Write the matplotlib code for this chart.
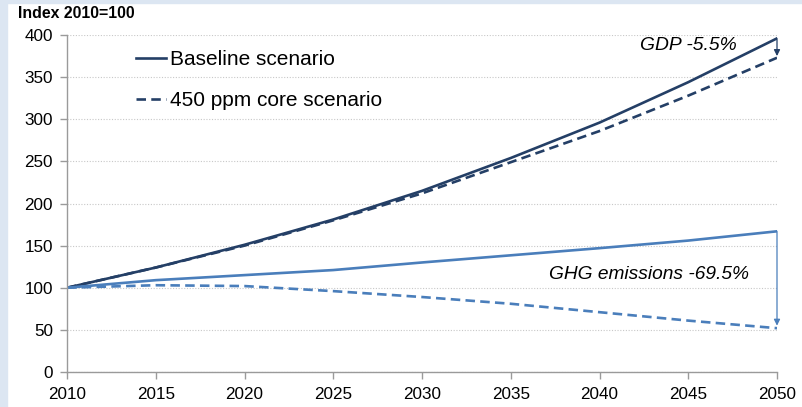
import matplotlib
matplotlib.use("Agg")
import matplotlib.pyplot as plt
from matplotlib.patches import Rectangle
from matplotlib.lines import Line2D

years = [2010, 2015, 2020, 2025, 2030, 2035, 2040, 2045, 2050]
gdp_baseline = [100, 124, 151, 181, 215, 254, 296, 344, 396]
gdp_450 = [100, 124, 150, 180, 212, 249, 286, 328, 373]
ghg_baseline = [100, 109, 115, 121, 130, 138.5, 147, 156, 167]
ghg_450 = [100, 103, 102, 96, 89, 81, 71, 61, 52]

legend_labels = ["Baseline scenario", "450 ppm core scenario"]
ylabel_text = "Index 2010=100"
gdp_note = "GDP -5.5%"
ghg_note = "GHG emissions -69.5%"

dark = "#243f66"
light = "#4a7ebb"

plt.rcParams['font.family'] = ['Liberation Sans', 'DejaVu Sans']

fig = plt.figure(figsize=(8.02, 4.07), dpi=100)
fig.patches.append(Rectangle((0, 0), 7/802, 1, transform=fig.transFigure,
                             color="#dce6f2", zorder=0))
fig.patches.append(Rectangle((0, 1 - 3/407), 1, 3/407, transform=fig.transFigure,
                             color="#dce6f2", zorder=0))

ax = fig.add_axes([67/802, 1 - 372/407, (777-67)/802, (372-35)/407])

ax.plot(years, gdp_baseline, color=dark, lw=1.9, solid_joinstyle='round')
ax.plot(years, gdp_450, color=dark, lw=1.9, dashes=(3.6, 2.0))
ax.plot(years, ghg_baseline, color=light, lw=1.9, solid_joinstyle='round')
ax.plot(years, ghg_450, color=light, lw=1.9, dashes=(3.6, 2.0))

ax.annotate("", xy=(years[-1], gdp_450[-1] + 2), xytext=(years[-1], gdp_baseline[-1]),
            arrowprops=dict(arrowstyle="-|>", color=dark, lw=0.9, mutation_scale=9,
                            shrinkA=0, shrinkB=0))
ax.annotate("", xy=(years[-1], ghg_450[-1] + 3), xytext=(years[-1], ghg_baseline[-1]),
            arrowprops=dict(arrowstyle="-|>", color=light, lw=0.9, mutation_scale=9,
                            shrinkA=0, shrinkB=0))

ax.text(2042.3, 388, gdp_note, fontsize=13.9, style='italic', va='center', ha='left')
ax.text(2037.15, 116, ghg_note, fontsize=13.8, style='italic', va='center', ha='left')

ax.set_xlim(2010, 2050)
ax.set_ylim(0, 400)
ax.set_xticks(range(2010, 2051, 5))
ax.set_yticks(range(0, 401, 50))
ax.tick_params(axis='both', labelsize=12.3, length=5, color="#9a9a9a", direction='out',
               width=1)
ax.tick_params(axis='x', pad=6)
ax.tick_params(axis='y', pad=5)
ax.grid(axis='y', color="#c8c8c8", lw=0.8, linestyle=(0, (1, 1.5)))
ax.set_axisbelow(True)
for s in ['top', 'right']:
    ax.spines[s].set_visible(False)
for s in ['left', 'bottom']:
    ax.spines[s].set_color("#9a9a9a")
    ax.spines[s].set_linewidth(1)

handles = [Line2D([], [], color=dark, lw=1.9),
           Line2D([], [], color=dark, lw=1.9, dashes=(3.6, 2.0))]
fig.legend(handles, legend_labels, loc='upper left', bbox_to_anchor=(136/802, 1 - 50/407),
           frameon=False, fontsize=15, handlelength=1.45, handletextpad=0.2,
           labelspacing=1.08, borderpad=0, borderaxespad=0)

fig.text(18/802, 1 - 13/407, ylabel_text, fontsize=11.4, fontweight='bold', va='center', ha='left')

fig.savefig("out.png", dpi=100)
